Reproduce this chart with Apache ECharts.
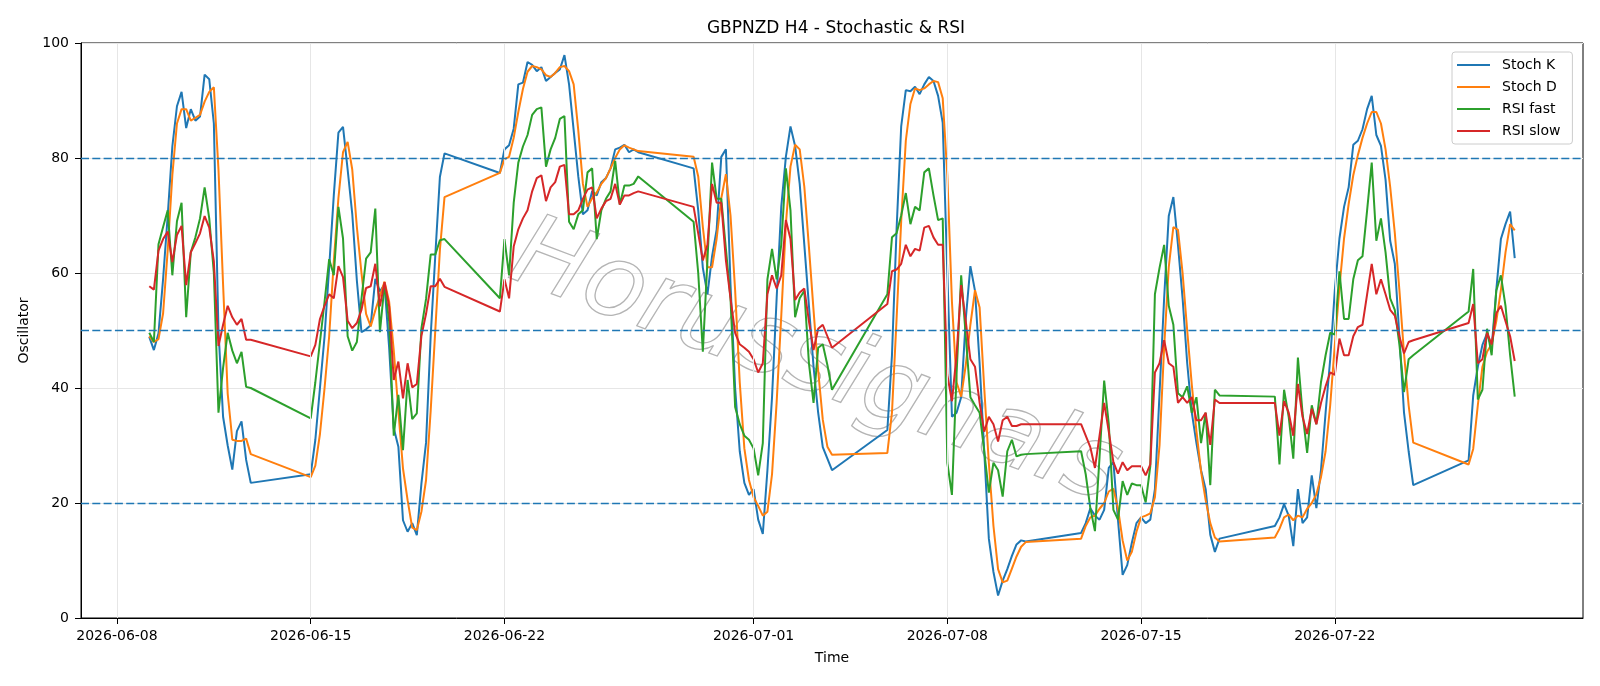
<!DOCTYPE html>
<html>
<head>
<meta charset="utf-8">
<script src="https://cdn.jsdelivr.net/npm/echarts@6/dist/echarts.min.js"></script>
<style>
  html, body { margin: 0; padding: 0; background: #fff; }
  #chart { width: 1600px; height: 686px; }
</style>
</head>
<body>
<div id="chart"></div>
<script>
// first bar of each trading week (UTC), bars every 4 hours after it
const weekStart = [
  '2026-06-09T04:00', '2026-06-15T00:00', '2026-06-21T20:00', '2026-06-28T20:00',
  '2026-07-05T20:00', '2026-07-12T20:00', '2026-07-19T20:00', '2026-07-26T20:00'
];

const stochK = [
  [48.9, 46.6, 49.5, 59, 70, 82, 89, 91.5, 85.2, 88.5, 86.5, 87.2, 94.5, 93.7, 86, 50, 35, 30, 25.8, 32.5, 34.2, 27.5, 23.5],
  [25, 31, 40, 49, 61, 73.5, 84.4, 85.4, 78, 70.3, 58.7, 49.7, 50.2, 50.9, 59, 56.8, 58, 47, 33, 29.8, 17, 15, 16.5, 14.4, 23.4, 30.5, 49, 63, 76.7, 80.8],
  [77.4, 81.5, 82.2, 85.1, 92.8, 93.1, 96.7, 96.2, 95.1, 95.8, 93.4, 94.1, 94.8, 95.4, 97.9, 92.8, 84.8, 76.8, 70.2, 70.9, 74.2, 73.5, 75.8, 76.5, 78.2, 81.5, 81.8, 82.3, 81, 81.5, 81],
  [78.2, 70.9, 60.9, 56.3, 62.9, 67.6, 80.2, 81.5, 58, 40, 29, 23.5, 21.4, 22.4, 17.1, 14.6, 25.7, 38.4, 55.6, 71.5, 80.2, 85.5, 82.1, 75.5, 64.9, 54.3, 43.7, 35.7, 29.7, 27.7, 25.7],
  [32.7, 45.7, 67.6, 85.5, 91.8, 91.6, 92.4, 91.1, 92.8, 94.1, 93.4, 90.8, 86.1, 60, 35, 35.7, 38.4, 52, 61.2, 56.9, 44.3, 29, 13.8, 8, 3.9, 6.5, 8.5, 10.8, 12.8, 13.5, 13.3],
  [14.8, 16.5, 19.1, 17.8, 17.1, 18.8, 26.1, 27.1, 17, 7.5, 9.2, 13.1, 16.5, 17.5, 16.5, 17.1, 22.4, 39, 55.6, 69.9, 73.2, 64.9, 55.6, 44.3, 35.7, 30.4, 25.7, 22.4, 14.5, 11.5, 13.8],
  [16, 17.5, 19.8, 17.8, 12.5, 22.4, 16.5, 17.5, 24.8, 19.1, 25.7, 35.7, 45, 57, 66, 71.5, 74.9, 82.3, 83, 85, 88.5, 90.8, 84, 82.1, 76.2, 65.6, 61.6, 49, 35.7, 29, 23.1],
  [27.4, 38.7, 43.7, 47.5, 49.5, 47, 57, 65.9, 68.5, 70.7, 62.6]
];

const stochD = [
  [49, 48, 48.5, 53, 64, 77, 86, 88.5, 88.5, 86.5, 87, 87.5, 89.8, 91.5, 92.3, 78, 58, 39, 31, 30.8, 30.8, 31.2, 28.5],
  [24.5, 26.5, 32, 40, 49, 62, 73, 81, 82.8, 78, 68, 60, 52.9, 50.7, 53.5, 56, 58.5, 55, 46.5, 36, 26, 20.5, 15.7, 15.3, 18.5, 24, 36, 50, 64, 73.2],
  [77.4, 79.8, 80.2, 83.5, 88, 92, 95, 96, 95.8, 95.4, 94.4, 94.1, 94.8, 95.8, 96, 95.1, 92.8, 84.8, 75.5, 71.5, 73, 74, 75.5, 76.5, 78.2, 80, 81.5, 82.2, 81.8, 81.5, 81.2],
  [80.2, 76.8, 68, 61, 61, 66, 73, 77.2, 70, 57, 41, 29.5, 24, 21, 19.5, 17.8, 18.5, 25, 37.5, 52.5, 68.5, 78.5, 82.3, 81.5, 75, 64.5, 53.5, 43, 34.5, 29.8, 28.4],
  [28.7, 35.7, 52, 69, 83, 89.4, 92.1, 91.8, 92.1, 92.8, 93.4, 93.2, 90.4, 77, 55, 41, 38.5, 44, 51, 57, 54, 40, 27, 16, 8.5, 6.2, 6.5, 8.6, 10.7, 12.4, 13.2],
  [13.8, 16, 17.5, 17.8, 19, 20, 22, 22.5, 19, 13.5, 10, 11.5, 15, 17.5, 17.8, 18.2, 21, 30, 47, 61, 68, 67.5, 60, 50, 40.5, 32.5, 25.5, 20.5, 16.5, 14, 13.3],
  [14, 15.5, 17.5, 18, 17, 17.8, 17.5, 19, 20, 21.5, 24.5, 29, 37, 47.5, 57.5, 66, 72, 77, 80.5, 83.5, 86, 88, 88, 86, 81.5, 75, 67, 57, 46, 37, 30.5],
  [26.7, 29.4, 37, 43.7, 46.3, 47.6, 51.6, 57, 63.6, 68.5, 67.4]
];

const rsiFast = [
  [49.6, 48, 65, 68, 70.9, 59.6, 69, 72.2, 52.3, 63.6, 66.2, 69.5, 74.9, 69.5, 60, 35.7, 43.5, 49.6, 46.5, 44.3, 46.3, 40.2, 40],
  [34.7, 41, 48, 55, 62.4, 59.6, 71.5, 66, 49, 46.5, 48, 55.5, 62.5, 63.6, 71.2, 49.7, 58, 51.6, 31.7, 38.8, 29.2, 41.4, 34.6, 35.6, 50.4, 55.5, 63.2, 63.2, 65.7, 65.9],
  [55.6, 65.9, 59.6, 72.2, 79.2, 82, 84, 87.5, 88.5, 88.8, 78.5, 81.5, 83.5, 86.8, 87.3, 68.9, 67.6, 70.2, 70.9, 77.5, 78.2, 65.9, 70.9, 72.9, 74.2, 79.5, 71.9, 75.2, 75.2, 75.5, 76.8],
  [68.9, 60, 46.3, 62.2, 79.2, 72.9, 72.9, 64.2, 55.6, 36.7, 33.7, 31.7, 31, 29.5, 24.8, 30.4, 58.9, 64.2, 58.9, 64.9, 78.2, 70.9, 52.3, 55.6, 56.9, 44.3, 37.4, 47, 47.6, 44, 39.7],
  [56.3, 66.2, 66.9, 70, 73.9, 68.5, 71.5, 70.9, 77.5, 78.2, 73.5, 69.2, 69.5, 27, 21.4, 42.3, 59.6, 49, 38.4, 37, 35.7, 29, 21.8, 27, 25.7, 21.1, 29, 31, 28.1, 28.4, 28.5],
  [29, 25, 19.1, 15.1, 28, 41.3, 33.7, 18.8, 17.1, 23.8, 21.4, 23.4, 23.1, 23.1, 20.1, 26.4, 56.3, 60.9, 64.9, 54.3, 51, 39.1, 38.4, 40.3, 35.7, 38.4, 30.4, 35.7, 23.1, 39.7, 38.7],
  [38.5, 26.7, 39.7, 35, 27.7, 45.3, 35.7, 28.7, 37, 33.7, 41, 45.7, 49.6, 49.3, 60.3, 52, 52, 58.9, 62.2, 62.9, 70.9, 79.2, 65.6, 69.5, 63.6, 55.6, 53.6, 47.6, 39.3, 45, 45.7],
  [53.3, 60.7, 38, 39.7, 50.3, 45.7, 56.9, 59.6, 54.3, 45.7, 38.5]
];

const rsiSlow = [
  [57.7, 57.1, 63.9, 65.9, 67.2, 61.9, 66.6, 68.2, 57.9, 63.6, 65.2, 66.9, 69.9, 67.9, 62, 47.3, 51, 54.3, 52.3, 51, 52, 48.4, 48.4],
  [45.5, 47.5, 52, 54.3, 56.3, 55.6, 61.2, 59.3, 51.7, 50.4, 51.3, 53.6, 57.4, 57.7, 61.6, 54.2, 58.4, 54.2, 41.4, 44.6, 38.2, 44.3, 40.1, 40.7, 49.1, 52.9, 57.7, 57.7, 59, 57.6],
  [53.3, 58.9, 55.6, 64.6, 67.6, 69.5, 70.9, 74.2, 76.5, 77, 72.5, 74.9, 75.8, 78.5, 78.8, 70.2, 70.2, 70.9, 72.9, 74.5, 74.9, 69.5, 71.2, 72.5, 72.9, 75.5, 71.9, 73.5, 73.5, 73.9, 74.2],
  [71.5, 66.9, 62.2, 64.9, 75.5, 72.2, 72.2, 62.2, 55.6, 49.6, 47.6, 47, 46.3, 45, 42.7, 44.3, 56.3, 59.6, 57.3, 59.6, 69.2, 65.9, 55.3, 56.6, 57.3, 51.6, 46.6, 50.3, 51, 49, 47],
  [54.6, 60.3, 60.6, 61.6, 64.9, 62.9, 64.2, 63.9, 67.9, 68.2, 66.2, 64.9, 64.9, 42.3, 37.7, 45.7, 57.9, 51.6, 45, 43.7, 37.4, 32.4, 35, 33.7, 30.7, 34.4, 35, 33.4, 33.4, 33.7, 33.7],
  [33.7, 31.7, 29.7, 26.1, 31.7, 37.4, 32.4, 27.1, 25.1, 27.1, 25.7, 26.4, 26.4, 26.4, 24.8, 26.7, 42.7, 44.3, 48.3, 44.3, 43.7, 37.4, 38.4, 37.4, 38.4, 34.4, 34.4, 35.7, 30.1, 38, 37.4],
  [37.4, 31.7, 37.7, 35.7, 31.7, 40.7, 35, 32, 36.4, 33.7, 37.4, 40.3, 42.7, 42.3, 48.6, 45.7, 45.7, 49, 50.6, 51, 56.3, 61.6, 56.3, 58.9, 56.3, 53.6, 52.6, 49, 46, 48, 48.3],
  [51.3, 54.6, 44.3, 45, 49.6, 47.6, 53, 54.3, 51.6, 49, 44.7]
];

const levels = [20, 50, 80];
const dateTicks = ['2026-06-08', '2026-06-15', '2026-06-22', '2026-07-01', '2026-07-08', '2026-07-15', '2026-07-22'];

const STEP = 4 * 3600 * 1000;
const toPoints = (weeks) => {
  const out = [];
  weeks.forEach((vals, w) => {
    const t0 = Date.parse(weekStart[w] + ':00Z');
    vals.forEach((v, i) => out.push([t0 + i * STEP, v]));
  });
  return out;
};

const kPts = toPoints(stochK);
const tFirst = kPts[0][0];
const tLast = kPts[kPts.length - 1][0];
const pad = (tLast - tFirst) * 0.05;
const tickMs = dateTicks.map(d => Date.parse(d + 'T00:00:00Z'));

const FONT = 'DejaVu Sans';
const chart = echarts.init(document.getElementById('chart'));

const lineSeries = (name, weeks, color) => ({
  name,
  type: 'line',
  data: toPoints(weeks),
  showSymbol: false,
  symbol: 'none',
  lineStyle: { color, width: 2 },
  itemStyle: { color },
  z: 3
});

const option = {
  animation: false,
  backgroundColor: '#fff',
  textStyle: { fontFamily: FONT },
  title: {
    text: 'GBPNZD H4 - Stochastic & RSI',
    left: 831,
    top: 15,
    textAlign: 'center',
    textStyle: { fontFamily: FONT, fontSize: 17, fontWeight: 'normal', color: '#000' }
  },
  legend: {
    orient: 'vertical',
    left: 1452,
    top: 52,
    icon: 'rect',
    itemWidth: 33,
    itemHeight: 2,
    itemGap: 8,
    padding: [6, 12, 6, 5],
    backgroundColor: '#fff',
    borderColor: '#cccccc',
    borderWidth: 1,
    borderRadius: 3,
    textStyle: { fontFamily: FONT, fontSize: 14, lineHeight: 14, color: '#000', padding: [0, 0, 0, 7] },
    data: ['Stoch K', 'Stoch D', 'RSI fast', 'RSI slow']
  },
  grid: {
    left: 81, right: 17, top: 43, bottom: 68,
    show: true, borderColor: '#000', borderWidth: 1,
    containLabel: false, outerBoundsMode: 'none'
  },
  xAxis: {
    type: 'value',
    min: tFirst - pad,
    max: tLast + pad,
    name: 'Time',
    nameLocation: 'middle',
    nameGap: 33,
    nameTextStyle: { fontFamily: FONT, fontSize: 14, color: '#000' },
    axisLine: { lineStyle: { color: '#000', width: 1 } },
    axisTick: { show: true, length: 6, lineStyle: { color: '#000' }, customValues: tickMs },
    axisLabel: {
      fontFamily: FONT, fontSize: 14, color: '#000', margin: 11,
      customValues: tickMs,
      formatter: (v) => new Date(v).toISOString().slice(0, 10)
    },
    splitLine: { show: false }
  },
  yAxis: {
    type: 'value',
    min: 0, max: 100, interval: 20,
    name: 'Oscillator',
    nameLocation: 'middle',
    nameGap: 47,
    nameTextStyle: { fontFamily: FONT, fontSize: 14, color: '#000' },
    axisLine: { show: true, lineStyle: { color: '#000', width: 1 } },
    axisTick: { show: true, length: 6, lineStyle: { color: '#000' } },
    axisLabel: { fontFamily: FONT, fontSize: 14, color: '#000', margin: 12 },
    splitLine: { show: true, lineStyle: { color: '#e6e6e6', width: 1 } }
  },
  graphic: [{
    type: 'text',
    x: 815, y: 365,
    rotation: -0.36,
    z: 1,
    silent: true,
    style: {
      text: 'Horussignals',
      font: 'italic 100px "DejaVu Sans"',
      fill: 'rgba(255,255,255,0)',
      stroke: '#b4b4b4',
      lineWidth: 1.3,
      align: 'center',
      verticalAlign: 'middle',
      shadowColor: 'rgba(0,0,0,0.22)',
      shadowBlur: 3,
      shadowOffsetX: 3,
      shadowOffsetY: 3
    }
  }],
  series: [
    {
      name: 'grid-x',
      type: 'line',
      data: [],
      silent: true,
      z: 1,
      markLine: {
        silent: true,
        symbol: 'none',
        label: { show: false },
        lineStyle: { color: '#e6e6e6', width: 1, type: 'solid' },
        data: tickMs.map(t => ({ xAxis: t }))
      }
    },
    lineSeries('Stoch K', stochK, '#1f77b4'),
    lineSeries('Stoch D', stochD, '#ff7f0e'),
    lineSeries('RSI fast', rsiFast, '#2ca02c'),
    lineSeries('RSI slow', rsiSlow, '#d62728'),
    {
      name: 'levels',
      type: 'line',
      data: [],
      silent: true,
      z: 4,
      markLine: {
        silent: true,
        symbol: 'none',
        label: { show: false },
        lineStyle: { color: '#1f77b4', width: 1.4, type: [8, 3.3] },
        data: levels.map(v => ({ yAxis: v }))
      }
    }
  ]
};

chart.setOption(option);
</script>
</body>
</html>
